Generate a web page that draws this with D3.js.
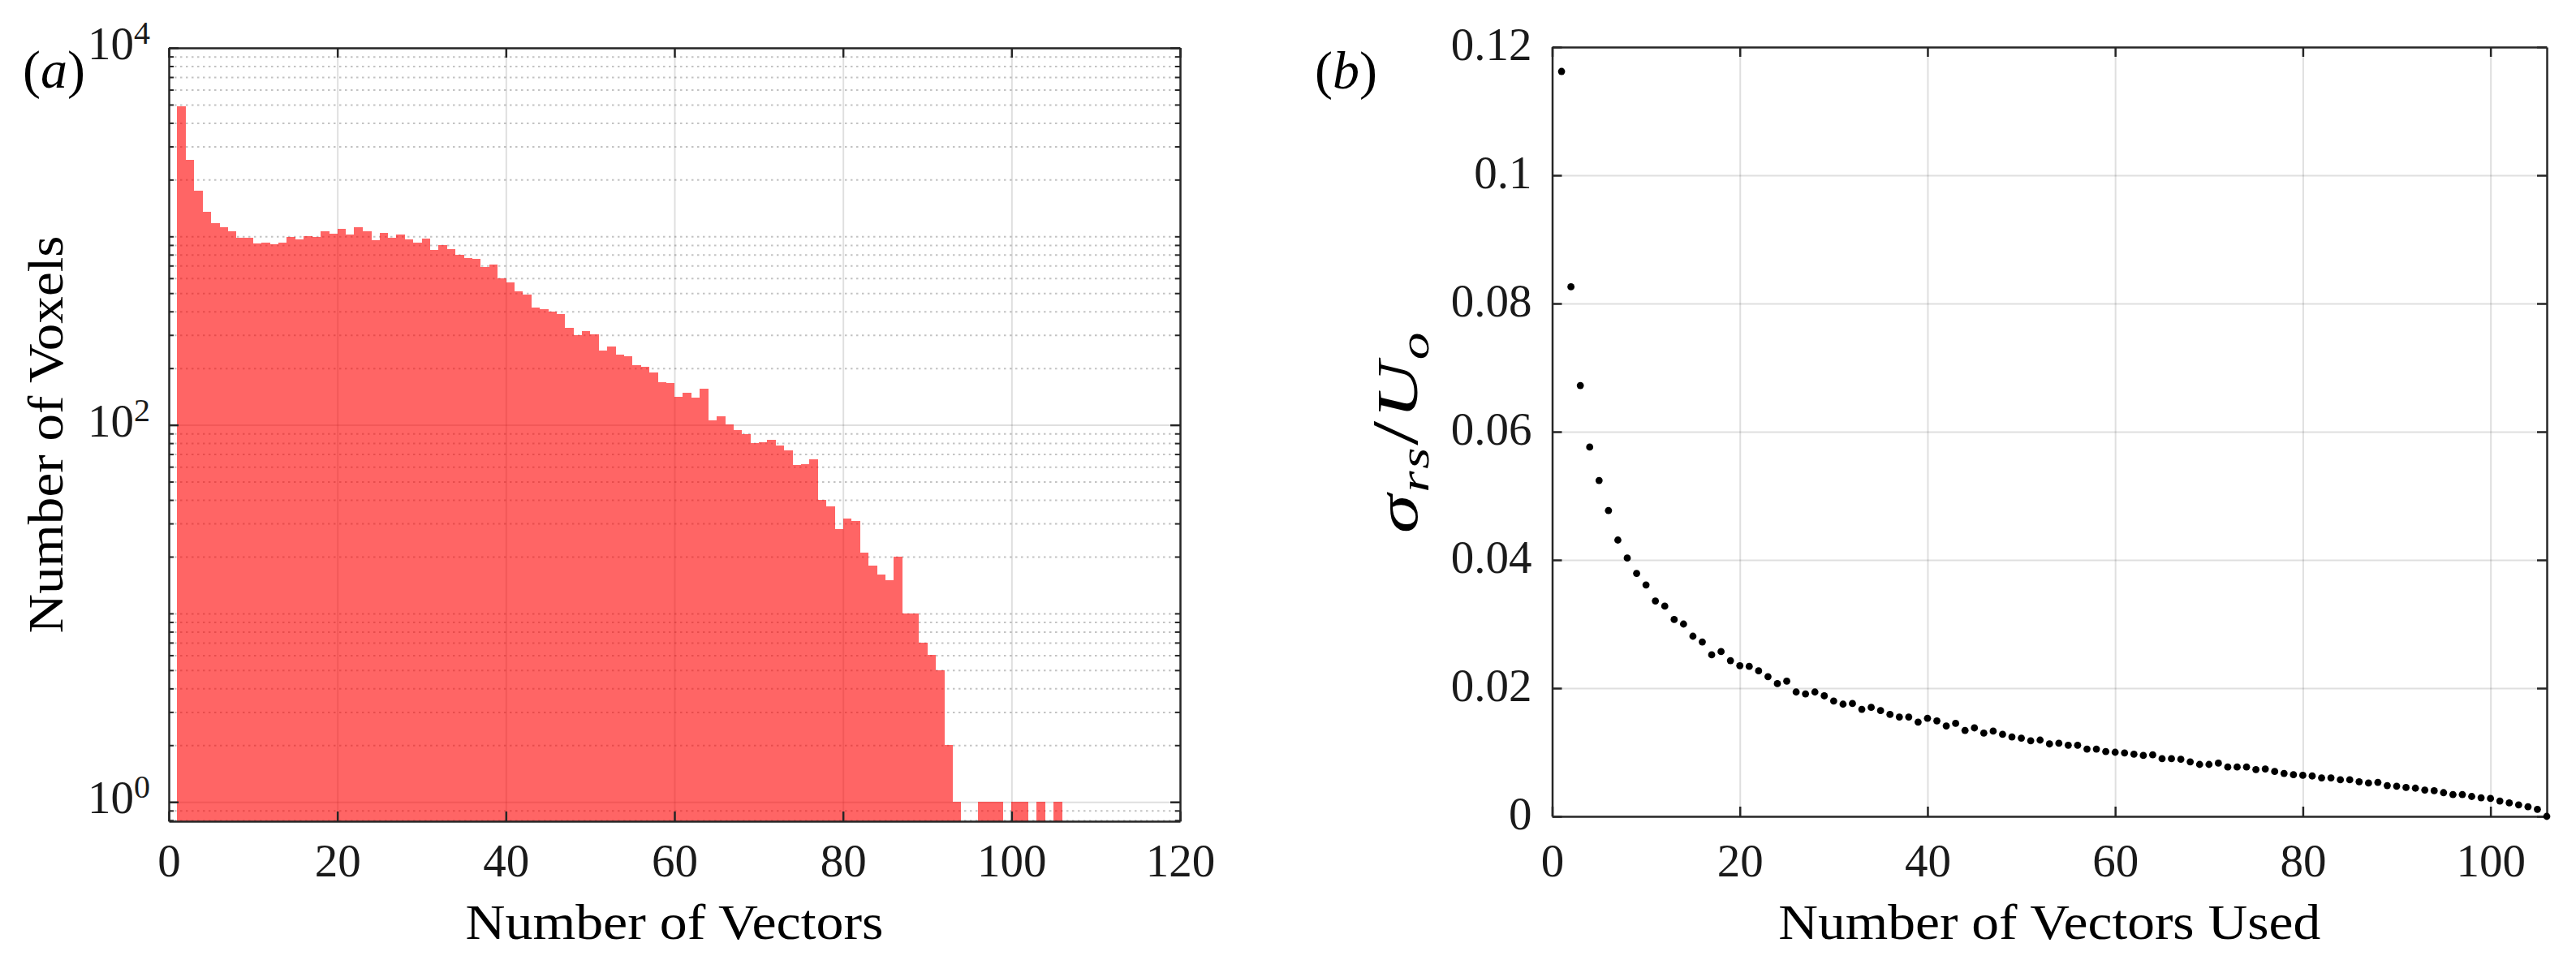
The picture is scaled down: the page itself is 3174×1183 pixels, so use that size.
<!DOCTYPE html>
<html>
<head>
<meta charset="utf-8">
<script src="https://cdnjs.cloudflare.com/ajax/libs/d3/7.8.5/d3.min.js"></script>
<style>
  body { margin: 0; background: #fff; }
</style>
</head>
<body>
<div id="fig"></div>
<script>
// (a) histogram: voxel counts for 1..105 vectors (one bin per integer)
const binStart = d3.range(1, 106);
const voxelCounts = [
  4909, 2541, 1749, 1355, 1177, 1120, 1067, 982, 982, 918,
  927, 909, 927, 997, 965, 1004, 997, 1066, 1031, 1101,
  1020, 1120, 1067, 959, 1047, 982, 1024, 965, 927, 972,
  846, 903, 860, 796, 765, 758, 687, 710, 599, 572,
  510, 490, 420, 411, 399, 389, 327, 298, 314, 303,
  249, 260, 237, 231, 207, 204, 189, 169, 167, 141,
  148, 139, 155, 106, 111, 101, 94, 89, 80, 81,
  83, 78, 73, 61, 62, 66, 40, 37, 28, 32,
  31, 21, 18, 16, 15, 20, 10, 10, 7, 6,
  5, 2, 1, 0, 0, 1, 1, 1, 0, 1,
  1, 0, 1, 0, 1
];
const histXTicks = [0, 20, 40, 60, 80, 100, 120];
const histYMajor = [1, 100, 10000];
const histYMajorExp = ["0", "2", "4"];

// (b) sigma_rs / U_o against number of vectors used
const vectorsUsed = d3.range(1, 107);
const sigmaRs = [
  0.1162, 0.0826, 0.0672, 0.0576, 0.0524, 0.0477, 0.0431, 0.0403, 0.0379, 0.0361,
  0.0336, 0.0328, 0.0307, 0.0300, 0.0281, 0.0272, 0.0252, 0.0257, 0.0243, 0.0235,
  0.0234, 0.0227, 0.0218, 0.0207, 0.0211, 0.0194, 0.0191, 0.0194, 0.0188, 0.0180,
  0.0175, 0.0176, 0.0167, 0.0170, 0.0165, 0.0159, 0.0155, 0.0155, 0.0147, 0.0153,
  0.0149, 0.0141, 0.0145, 0.0134, 0.0138, 0.0130, 0.0133, 0.0128, 0.0124, 0.0122,
  0.0118, 0.0119, 0.0113, 0.0114, 0.0111, 0.0111, 0.0105, 0.0105, 0.0101, 0.0100,
  0.0099, 0.0097, 0.0095, 0.0096, 0.0090, 0.0090, 0.0089, 0.0085, 0.0081, 0.0081,
  0.0083, 0.0077, 0.0077, 0.0077, 0.0073, 0.0074, 0.0070, 0.0067, 0.0065, 0.0064,
  0.0063, 0.0060, 0.0060, 0.0057, 0.0057, 0.0054, 0.0052, 0.0053, 0.0048, 0.0047,
  0.0045, 0.0044, 0.0041, 0.0040, 0.0037, 0.0034, 0.0034, 0.0031, 0.0029, 0.0028,
  0.0024, 0.0021, 0.0018, 0.0015, 0.0011, 0.0000
];
const sigmaXTicks = [0, 20, 40, 60, 80, 100];
const sigmaYTicks = [0, 0.02, 0.04, 0.06, 0.08, 0.1, 0.12];

const axisColor = "#262626";
const serif = "'Liberation Serif', 'DejaVu Serif', serif";
const tickFont = 57;
const labelFont = 62;

const svg = d3.select("#fig").append("svg")
    .attr("width", 3174)
    .attr("height", 1183)
    .attr("font-family", serif)
    .style("display", "block");

// style an axis group: dark lines, serif tick text
function styleAxis(g, width) {
    g.attr("font-family", serif).attr("font-size", tickFont);
    g.selectAll("path, line").attr("stroke", axisColor).attr("stroke-width", width);
    g.selectAll("text").attr("fill", "#1a1a1a").attr("font-family", serif);
}

// grid lines from an axis call, no text, no domain
function gridAxis(axis, translate, color, opacity, dash) {
    const g = svg.append("g")
        .attr("transform", translate)
        .call(axis.tickFormat("").tickSizeOuter(0));
    g.select(".domain").remove();
    g.selectAll("line")
        .attr("stroke", color)
        .attr("stroke-opacity", opacity)
        .attr("stroke-width", 2)
        .attr("stroke-dasharray", dash);
    return g;
}

// ---------- panel (a) ----------
function drawHistogram() {
    const left = 208, right = 1454, top = 59, bottom = 1012;
    const x = d3.scaleLinear().domain([0, 120]).range([left, right]);
    const y = d3.scaleLog().domain([0.79, 1e4]).range([bottom, top]);

    // minor log ticks: 2..9 of each decade, plus the odd decades
    const minor = [];
    [0.1, 1, 10, 100, 1000].forEach(d => {
        for (let m = 1; m <= 9; m++) {
            const v = d * m;
            if (v >= 0.79 && v <= 1e4 && !histYMajor.includes(v)) minor.push(v);
        }
    });

    // grids (under the bars)
    gridAxis(d3.axisBottom(x).tickValues(histXTicks.slice(1, -1)).tickSize(-(bottom - top)),
        `translate(0,${bottom})`, axisColor, 0.15, null);
    gridAxis(d3.axisLeft(y).tickValues(minor).tickSize(-(right - left)),
        `translate(${left},0)`, axisColor, 0.28, "2.5,4.5");
    gridAxis(d3.axisLeft(y).tickValues(histYMajor).tickSize(-(right - left)),
        `translate(${left},0)`, axisColor, 0.15, null);

    // bars, translucent red
    const bars = binStart.map((b, i) => ({ start: b, count: voxelCounts[i] }))
        .filter(d => d.count > 0);
    svg.append("g")
        .attr("opacity", 0.6)
        .selectAll("rect")
        .data(bars)
        .join("rect")
            .attr("x", d => x(d.start))
            .attr("width", d => x(d.start + 1) - x(d.start) + 0.3)
            .attr("y", d => y(d.count))
            .attr("height", d => bottom - y(d.count))
            .attr("fill", "#ff0000")
            .attr("shape-rendering", "crispEdges");

    // axes box with inward ticks
    const xb = svg.append("g").attr("transform", `translate(0,${bottom})`)
        .call(d3.axisBottom(x).tickValues(histXTicks).tickSizeInner(-12).tickSizeOuter(0).tickPadding(28));
    styleAxis(xb, 2.5);
    const xt = svg.append("g").attr("transform", `translate(0,${top})`)
        .call(d3.axisTop(x).tickValues(histXTicks).tickSizeInner(-12).tickSizeOuter(0).tickFormat(""));
    styleAxis(xt, 2.5);

    [[d3.axisLeft, left], [d3.axisRight, right]].forEach(([mk, pos]) => {
        const gMaj = svg.append("g").attr("transform", `translate(${pos},0)`)
            .call(mk(y).tickValues(histYMajor).tickSizeInner(-12).tickSizeOuter(0).tickFormat(""));
        styleAxis(gMaj, 2.5);
        const gMin = svg.append("g").attr("transform", `translate(${pos},0)`)
            .call(mk(y).tickValues(minor).tickSizeInner(-6).tickSizeOuter(0).tickFormat(""));
        gMin.select(".domain").remove();
        styleAxis(gMin, 2);
    });

    // 10^k labels
    const lab = svg.append("g").attr("font-size", tickFont).attr("fill", "#1a1a1a");
    histYMajor.forEach((v, i) => {
        const t = lab.append("text")
            .attr("x", 185)
            .attr("y", y(v) + 14)
            .attr("text-anchor", "end");
        t.append("tspan").text("10");
        t.append("tspan").attr("dy", -19).attr("font-size", 40).text(histYMajorExp[i]);
    });

    svg.append("text")
        .attr("x", (left + right) / 2).attr("y", 1157)
        .attr("text-anchor", "middle").attr("font-size", labelFont)
        .attr("textLength", 515).attr("lengthAdjust", "spacingAndGlyphs")
        .text("Number of Vectors");
    svg.append("text")
        .attr("transform", `translate(77,${(top + bottom) / 2}) rotate(-90)`)
        .attr("text-anchor", "middle").attr("font-size", labelFont)
        .attr("textLength", 490).attr("lengthAdjust", "spacingAndGlyphs")
        .text("Number of Voxels");

    const pa = svg.append("text").attr("x", 28).attr("y", 108).attr("font-size", 66);
    pa.append("tspan").text("(");
    pa.append("tspan").attr("font-style", "italic").text("a");
    pa.append("tspan").text(")");
}

// ---------- panel (b) ----------
function drawSigma() {
    const left = 1912.5, right = 3138, top = 58, bottom = 1006;
    const x = d3.scaleLinear().domain([0, 106]).range([left, right]);
    const y = d3.scaleLinear().domain([0, 0.12]).range([bottom, top]);

    gridAxis(d3.axisBottom(x).tickValues(sigmaXTicks.slice(1)).tickSize(-(bottom - top)),
        `translate(0,${bottom})`, axisColor, 0.15, null);
    gridAxis(d3.axisLeft(y).tickValues(sigmaYTicks.slice(1, -1)).tickSize(-(right - left)),
        `translate(${left},0)`, axisColor, 0.15, null);

    const fmt = d => d === 0 ? "0" : String(+d.toFixed(2));

    const xb = svg.append("g").attr("transform", `translate(0,${bottom})`)
        .call(d3.axisBottom(x).tickValues(sigmaXTicks).tickSizeInner(-12).tickSizeOuter(0).tickPadding(34));
    styleAxis(xb, 2.5);
    const xt = svg.append("g").attr("transform", `translate(0,${top})`)
        .call(d3.axisTop(x).tickValues(sigmaXTicks).tickSizeInner(-12).tickSizeOuter(0).tickFormat(""));
    styleAxis(xt, 2.5);
    const yl = svg.append("g").attr("transform", `translate(${left},0)`)
        .call(d3.axisLeft(y).tickValues(sigmaYTicks).tickSizeInner(-12).tickSizeOuter(0).tickPadding(25).tickFormat(fmt));
    styleAxis(yl, 2.5);
    yl.selectAll("text").attr("dy", "0.27em");
    const yr = svg.append("g").attr("transform", `translate(${right},0)`)
        .call(d3.axisRight(y).tickValues(sigmaYTicks).tickSizeInner(-12).tickSizeOuter(0).tickFormat(""));
    styleAxis(yr, 2.5);

    svg.append("g")
        .selectAll("circle")
        .data(vectorsUsed.map((n, i) => ({ n: n, s: sigmaRs[i] })))
        .join("circle")
            .attr("cx", d => x(d.n))
            .attr("cy", d => y(d.s))
            .attr("r", 4.4)
            .attr("fill", "#000");

    svg.append("text")
        .attr("x", (left + right) / 2).attr("y", 1157)
        .attr("text-anchor", "middle").attr("font-size", labelFont)
        .attr("textLength", 668).attr("lengthAdjust", "spacingAndGlyphs")
        .text("Number of Vectors Used");

    // sigma_rs / U_o, rotated and widened along the text to mimic the math font
    const yl2 = svg.append("text")
        .attr("transform", `translate(1746,${(top + bottom) / 2}) rotate(-90) scale(1.35,1)`)
        .attr("text-anchor", "middle").attr("font-size", 72)
        .attr("letter-spacing", 2);
    yl2.append("tspan").attr("font-style", "italic").text("σ");
    yl2.append("tspan").attr("font-style", "italic").attr("font-size", 50).attr("dy", 14).text("rs");
    yl2.append("tspan").attr("dy", -14).attr("font-size", 80).text("/");
    yl2.append("tspan").attr("font-style", "italic").text("U");
    yl2.append("tspan").attr("font-style", "italic").attr("font-size", 50).attr("dy", 14).text("o");

    const pb = svg.append("text").attr("x", 1620).attr("y", 109).attr("font-size", 66);
    pb.append("tspan").text("(");
    pb.append("tspan").attr("font-style", "italic").text("b");
    pb.append("tspan").text(")");
}

drawHistogram();
drawSigma();
</script>
</body>
</html>
